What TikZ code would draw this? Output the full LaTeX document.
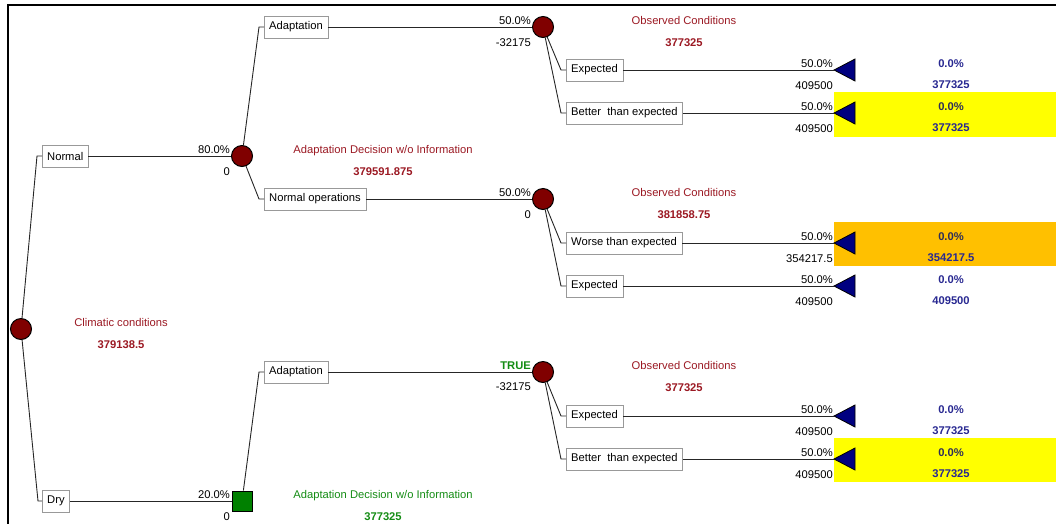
\documentclass[tikz,border=0pt]{standalone}
\usepackage{fontspec}
\setmainfont{Liberation Sans}
\usetikzlibrary{positioning}

\definecolor{nodered}{RGB}{128,0,0}
\definecolor{txtred}{RGB}{155,25,35}
\definecolor{nodegreen}{RGB}{0,128,0}
\definecolor{txtgreen}{RGB}{20,140,20}
\definecolor{termblue}{RGB}{0,0,128}
\definecolor{txtblue}{RGB}{40,40,145}
\definecolor{hltxt}{RGB}{45,45,90}
\definecolor{hlyellow}{RGB}{255,255,0}
\definecolor{hlorange}{RGB}{255,192,0}

\newcommand\lbl{\fontsize{11.2}{13}\selectfont}

\tikzset{
  branch/.style={draw=gray!80, fill=white, inner xsep=5pt, inner ysep=0pt, minimum height=22pt, anchor=west},
  chance/.style={circle, draw=black, fill=nodered, minimum size=21pt, inner sep=0pt, line width=1pt},
  decide/.style={rectangle, draw=black, fill=nodegreen, minimum size=20pt, inner sep=0pt, line width=1pt},
  edge/.style={draw=black!85, line width=0.9pt},
  prob/.style={anchor=base east, inner sep=0pt},
  title/.style={anchor=base, inner sep=0pt},
  value/.style={anchor=base, inner sep=0pt, font=\lbl\bfseries}
}

\begin{document}
\begin{tikzpicture}[x=1pt, y=-1pt, font=\lbl]
    \useasboundingbox (0,0) rectangle (1056,523);
    % frame
    \draw[line width=2pt] (1060,5) -- (8,5) -- (8,530);

    % highlighted outcomes
    \fill[hlyellow] (834,92) rectangle (1056,137);
    \fill[hlorange] (834,222) rectangle (1056,266);
    \fill[hlyellow] (834,438) rectangle (1056,482);

    % root: climatic conditions
    \node[chance] (root) at (21,329) {};
    \node[title, txtred] at (121,326) {Climatic conditions};
    \node[value, txtred] at (121,348) {379138.5};

    \node[branch] (normal) at (42,156) {Normal};
    \node[branch] (dry) at (42,501) {Dry};
    \draw[edge] (root) -- ([xshift=-5pt]normal.west) -- (normal.west);
    \draw[edge] (root) -- ([xshift=-4pt]dry.west) -- (dry.west);

    % Normal -> chance node
    \node[chance] (chN) at (242,156) {};
    \draw[edge] (normal.east) -- (chN);
    \node[prob] at (230,153) {80.0\%};
    \node[prob] at (230,175) {0};
    \node[title, txtred] at (383,153) {Adaptation Decision w/o Information};
    \node[value, txtred] at (383,175) {379591.875};

    % Dry -> decision node
    \node[decide] (decD) at (242,501) {};
    \draw[edge] (dry.east) -- (decD);
    \node[prob] at (230,498) {20.0\%};
    \node[prob] at (230,520) {0};
    \node[title, txtgreen] at (383,498) {Adaptation Decision w/o Information};
    \node[value, txtgreen] at (383,520) {377325};

    % decisions
    \node[branch] (adaptN) at (264,27) {Adaptation};
    \node[branch] (normops) at (264,199) {Normal operations};
    \node[branch] (adaptD) at (264,372) {Adaptation};
    \draw[edge] (chN) -- ([xshift=-5pt]adaptN.west) -- (adaptN.west);
    \draw[edge] (chN) -- ([xshift=-5pt]normops.west) -- (normops.west);
    \draw[edge] (decD) -- ([xshift=-5pt]adaptD.west) -- (adaptD.west);

    % observed conditions
    \node[chance] (obsA) at (543,27) {};
    \draw[edge] (adaptN.east) -- (obsA);
    \node[prob] at (531,24) {50.0\%};
    \node[prob] at (531,46) {-32175};
    \node[title, txtred] at (684,24) {Observed Conditions};
    \node[value, txtred] at (684,46) {377325};

    \node[chance] (obsB) at (543,199) {};
    \draw[edge] (normops.east) -- (obsB);
    \node[prob] at (531,196) {50.0\%};
    \node[prob] at (531,218) {0};
    \node[title, txtred] at (684,196) {Observed Conditions};
    \node[value, txtred] at (684,218) {381858.75};

    \node[chance] (obsC) at (543,372) {};
    \draw[edge] (adaptD.east) -- (obsC);
    \node[prob, txtgreen, font=\lbl\bfseries] at (531,369) {TRUE};
    \node[prob] at (531,390) {-32175};
    \node[title, txtred] at (684,369) {Observed Conditions};
    \node[value, txtred] at (684,391) {377325};

    % outcomes
    \node[branch] (expA) at (566,70) {Expected};
    \node[branch] (betterA) at (566,113) {Better\ \ than expected};
    \node[branch] (worseB) at (566,243) {Worse than expected};
    \node[branch] (expB) at (566,286) {Expected};
    \node[branch] (expC) at (566,416) {Expected};
    \node[branch] (betterC) at (566,459) {Better\ \ than expected};
    \foreach \o/\b in {obsA/expA, obsA/betterA, obsB/worseB, obsB/expB, obsC/expC, obsC/betterC}
        \draw[edge] (\o) -- ([xshift=-5pt]\b.west) -- (\b.west);

    % terminal nodes
    \foreach \n/\b/\y/\v/\r/\c in {t1/expA/70/409500/377325/txtblue, t2/betterA/113/409500/377325/hltxt,
        t3/worseB/243/354217.5/354217.5/hltxt, t4/expB/286/409500/409500/txtblue,
        t5/expC/416/409500/377325/txtblue, t6/betterC/459/409500/377325/hltxt} {
        \coordinate (\n) at (834,\y);
        \filldraw[fill=termblue, draw=black, line width=0.8pt] (834,\y) -- (855,\y-11) -- (855,\y+11) -- cycle;
        \draw[edge] (\b.east) -- (\n);
        \node[prob] at (833,\y-3) {50.0\%};
        \node[prob] at (833,\y+19) {\v};
        \node[value, \c] at (951,\y-3) {0.0\%};
        \node[value, txtblue] at (951,\y+18) {\r};
    }
\end{tikzpicture}
\end{document}
